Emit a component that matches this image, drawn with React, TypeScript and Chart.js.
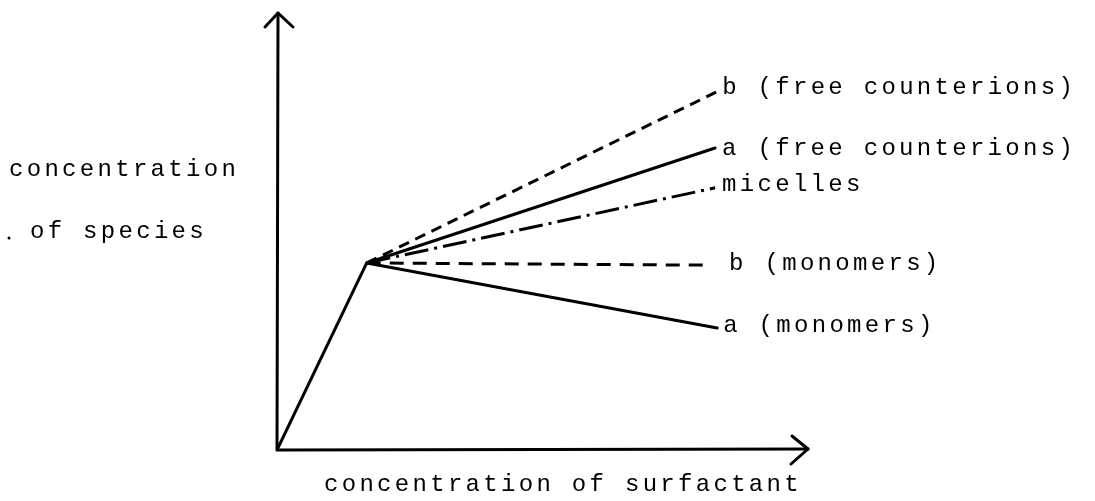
import React, { useEffect, useRef } from "react";
import { Chart, registerables } from "chart.js";

Chart.register(...registerables);

// Concentration of each species against total surfactant concentration.
// Below the CMC only monomers exist; above it the curves fan out.
const cmcX = 1.69;
const cmcY = 4.28;

const seriesNames = [
  "b (free counterions)",
  "a (free counterions)",
  "micelles",
  "b (monomers)",
  "a (monomers)",
];
const endX = [8.27, 8.25, 8.25, 8.1, 8.29];
const endY = [8.19, 6.91, 6.0, 4.23, 2.79];

const xTitle = "concentration of surfactant";
const yTitleLines = ["concentration", "of species"];

// line styles per series
const dashes: number[][] = [[11, 7], [], [24, 6, 3, 6], [14, 9], []];
// label offsets from line end (px)
const labelDX = [6, 7, 7, 22, 6];
const labelDY = [-4, 1, -3, -2, -2];

const X_MAX = 10;
const Y_MAX = 10;
const FONT = '24px "Liberation Mono", "DejaVu Sans Mono", monospace';
const INK = "#000";

const axesAndLabels = {
  id: "axesAndLabels",
  beforeDatasetsDraw(chart: any) {
    const { ctx, scales } = chart;
    const x = scales.x;
    const y = scales.y;
    const ox = x.getPixelForValue(0);
    const oy = y.getPixelForValue(0);
    const tx = x.getPixelForValue(X_MAX);
    const ty = y.getPixelForValue(Y_MAX);
    ctx.save();
    ctx.strokeStyle = INK;
    ctx.lineWidth = 3;
    ctx.lineCap = "round";
    ctx.lineJoin = "round";
    ctx.beginPath();
    ctx.moveTo(ox, oy);
    ctx.lineTo(ox + 1, ty);
    ctx.moveTo(ox, oy);
    ctx.lineTo(tx, oy - 1);
    ctx.stroke();
    // arrowheads
    ctx.beginPath();
    ctx.moveTo(ox - 12, ty + 14);
    ctx.lineTo(ox + 1, ty);
    ctx.lineTo(ox + 16, ty + 14);
    ctx.moveTo(tx - 16, oy - 14);
    ctx.lineTo(tx, oy - 1);
    ctx.lineTo(tx - 17, oy + 14);
    ctx.stroke();
    ctx.restore();
  },
  afterDatasetsDraw(chart: any) {
    const { ctx, scales } = chart;
    const x = scales.x;
    const y = scales.y;
    ctx.save();
    ctx.fillStyle = INK;
    ctx.font = FONT;
    try {
      (ctx as any).letterSpacing = "3.3px";
    } catch (e) {}
    ctx.textBaseline = "middle";
    ctx.textAlign = "left";
    seriesNames.forEach((name, i) => {
      const px = x.getPixelForValue(endX[i]);
      const py = y.getPixelForValue(endY[i]);
      ctx.fillText(name, px + labelDX[i], py + labelDY[i]);
    });
    ctx.fillText(yTitleLines[0], 9, 170);
    ctx.fillText(yTitleLines[1], 30, 232);
    ctx.beginPath();
    ctx.arc(9, 238, 1.5, 0, Math.PI * 2);
    ctx.fill();
    ctx.fillText(xTitle, 324, 485);
    ctx.restore();
  },
};

export default function App() {
  const ref = useRef<HTMLCanvasElement | null>(null);

  useEffect(() => {
    if (!ref.current) return;
    const datasets: any[] = [
      {
        data: [
          { x: 0, y: 0 },
          { x: cmcX, y: cmcY },
        ],
        borderColor: INK,
        borderWidth: 3,
        borderDash: [],
      },
      ...seriesNames.map((name, i) => ({
        label: name,
        data: [
          { x: cmcX, y: cmcY },
          { x: endX[i], y: endY[i] },
        ],
        borderColor: INK,
        borderWidth: 3,
        borderDash: dashes[i],
        borderCapStyle: dashes[i].length ? "butt" : "round",
      })),
    ];
    const chart = new Chart(ref.current, {
      type: "scatter",
      data: { datasets },
      options: {
        animation: false,
        responsive: false,
        showLine: true,
        elements: { point: { radius: 0, hoverRadius: 0 }, line: { tension: 0 } },
        layout: { padding: { left: 277, right: 287, top: 13, bottom: 51 } },
        scales: {
          x: { type: "linear", min: 0, max: X_MAX, display: false },
          y: { type: "linear", min: 0, max: Y_MAX, display: false },
        },
        plugins: { legend: { display: false }, tooltip: { enabled: false } },
      } as any,
      plugins: [axesAndLabels],
    });
    return () => chart.destroy();
  }, []);

  return (
    <div style={{ position: "fixed", left: 0, top: 0, width: 1095, height: 501, background: "#fff" }}>
      <canvas ref={ref} width={1095} height={501} style={{ width: 1095, height: 501 }} />
    </div>
  );
}
